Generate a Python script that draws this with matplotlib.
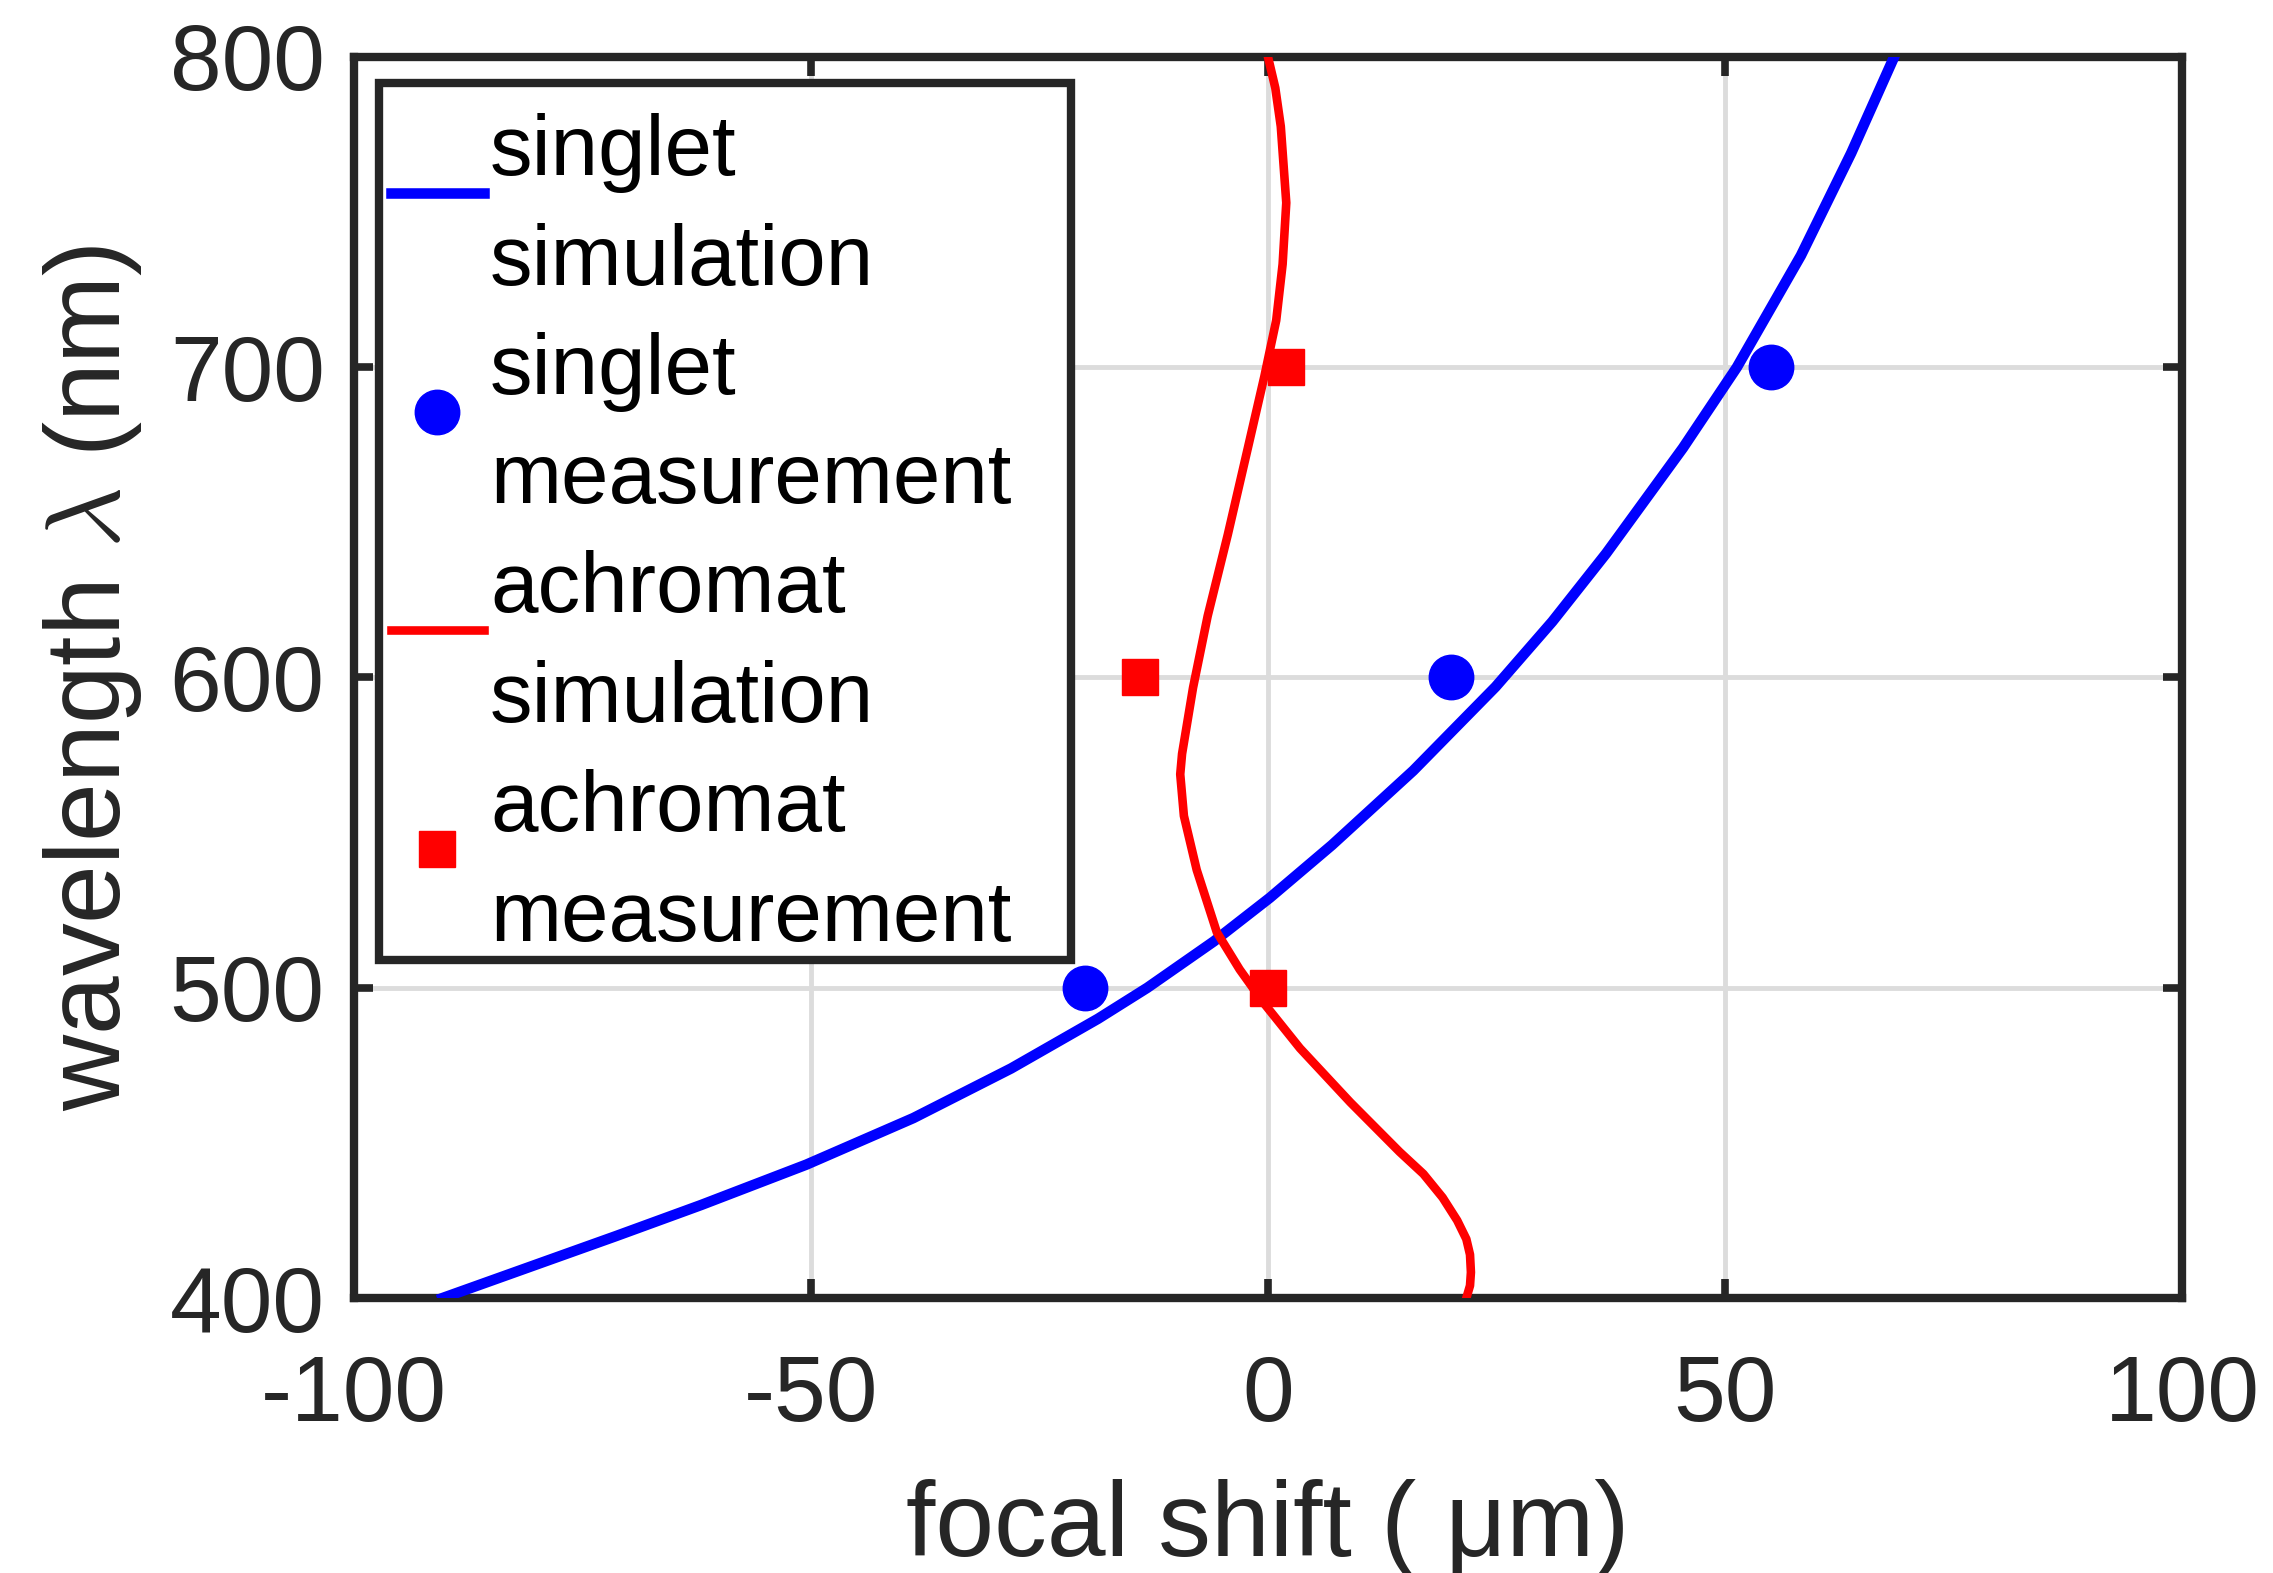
import numpy as np
import matplotlib.pyplot as plt
from matplotlib.patches import Rectangle

plt.rcParams['font.family'] = ['Liberation Sans', 'DejaVu Sans']
plt.rcParams['mathtext.fontset'] = 'cm'
plt.rcParams['axes.unicode_minus'] = False

# singlet simulation (wavelength nm -> focal shift um)
singlet_wl = [400, 410, 420, 430, 443, 458, 474, 490, 500, 515, 529,
              546, 570, 597, 618, 640, 674, 700, 736, 769, 800]
singlet_sim = [-90.3, -80.8, -71.3, -62.0, -50.5, -38.8, -28.1, -18.6, -13.2, -5.9, 0.2,
               7.0, 15.9, 24.9, 31.1, 37.0, 45.4, 51.3, 58.3, 63.8, 68.5]

# achromat simulation
achro_wl = [400, 404, 408.3, 414, 419.0, 425, 432.4, 440, 447.1, 463.1, 480.5, 495.2,
            505.9, 517.9, 538.0, 555.4, 568.8, 575.4, 596.7, 619.8, 646.0, 674.0,
            697.0, 715.1, 733.2, 753.0, 777.6, 790, 800]
achro_sim = [21.7, 22.1, 22.2, 22.1, 21.7, 20.7, 19.1, 17.0, 14.4, 9.0, 3.5, -0.5,
             -3.1, -5.6, -7.8, -9.2, -9.6, -9.4, -8.2, -6.6, -4.4, -2.2,
             -0.4, 0.9, 1.6, 2.0, 1.4, 0.8, 0.0]

# measurements
meas_wl = [500, 600, 700]
singlet_meas = [-20, 20, 55]
achro_meas = [0, -14, 2]

dark = '#262626'

fig = plt.figure(figsize=(22.73, 15.73), dpi=100)
ax = fig.add_axes([0.1557, 0.1748, 0.8043, 0.789])

ax.plot(singlet_sim, singlet_wl, color='blue', lw=7.6, label='singlet\nsimulation',
        zorder=3, solid_joinstyle='round')
ax.plot(singlet_meas, meas_wl, 'o', color='blue', ms=32, ls='none',
        label='singlet\nmeasurement', zorder=4)
ax.plot(achro_sim, achro_wl, color='red', lw=6.2, label='achromat\nsimulation',
        zorder=3, solid_joinstyle='round')
ax.plot(achro_meas, meas_wl, 's', color='red', ms=26, ls='none',
        label='achromat\nmeasurement', zorder=4)

ax.set_xlim(-100, 100)
ax.set_ylim(400, 800)
ax.set_xticks([-100, -50, 0, 50, 100])
ax.set_yticks([400, 500, 600, 700, 800])

ax.grid(True, color='#dcdcdc', lw=3.5)
ax.set_axisbelow(True)

for s in ax.spines.values():
    s.set_linewidth(6)
    s.set_color(dark)

ax.tick_params(axis='both', direction='in', length=14, width=5.5, color=dark,
               labelsize=67, labelcolor=dark, top=True, right=True)
ax.tick_params(axis='x', pad=40)
ax.tick_params(axis='y', pad=21)

ax.set_xlabel('focal shift ( μm)', fontsize=76, color=dark)
ax.set_ylabel(r'wavelength $\lambda$ (nm)', fontsize=76, color=dark)
ax.xaxis.set_label_coords(0.5, -0.146)
ax.yaxis.set_label_coords(-0.115, 0.5)

# legend frame drawn separately so its size matches the original box
ax.add_patch(Rectangle((0.0137, 0.272), 0.392 - 0.0137, 0.979 - 0.272,
                       transform=ax.transAxes, facecolor='white', edgecolor=dark,
                       lw=6, zorder=4.5, clip_on=False))

leg = ax.legend(loc='upper left', bbox_to_anchor=(0.0202, 0.955), frameon=False,
                fontsize=61.5, handlelength=1.09, handleheight=1.95, handletextpad=0.07,
                borderpad=0, borderaxespad=0, labelspacing=0.34, numpoints=1)
leg.set_zorder(5)
for t in leg.get_texts():
    t.set_linespacing(1.48)
    t.set_color('black')

fig.savefig('out.png', dpi=100, facecolor='white')
